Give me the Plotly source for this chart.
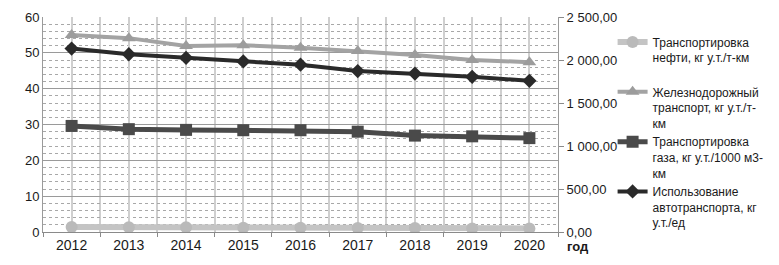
import plotly.graph_objects as go

years = [2012, 2013, 2014, 2015, 2016, 2017, 2018, 2019, 2020]
oil = [1.4, 1.3, 1.3, 1.2, 1.2, 1.1, 1.1, 1.0, 1.0]
rail = [55.0, 54.1, 51.9, 52.1, 51.4, 50.5, 49.4, 48.0, 47.4]
gas = [29.6, 28.7, 28.5, 28.4, 28.4, 28.0, 26.9, 26.7, 26.2]
auto = [2133, 2067, 2025, 1983, 1946, 1871, 1842, 1804, 1758]

names = [
    "Транспортировка<br>нефти, кг у.т./т-км<br> ",
    "Железнодорожный<br>транспорт, кг у.т./т-<br>км",
    "Транспортировка<br>газа, кг у.т./1000 м3-<br>км",
    "Использование<br>автотранспорта, кг<br>у.т./ед",
]

FONT = "Liberation Sans, Arial, sans-serif"
VGRID = "#cfcfcf"

fig = go.Figure()
fig.add_trace(go.Scatter(x=years, y=oil, name=names[0], mode="lines+markers",
                         line=dict(color="#c4c4c4", width=6),
                         marker=dict(symbol="circle", size=12, color="#bababa")))
fig.add_trace(go.Scatter(x=years, y=rail, name=names[1], mode="lines+markers",
                         line=dict(color="#a3a3a3", width=4),
                         marker=dict(symbol="triangle-up", size=12, color="#9c9c9c")))
fig.add_trace(go.Scatter(x=years, y=gas, name=names[2], mode="lines+markers",
                         line=dict(color="#4a4a4a", width=5),
                         marker=dict(symbol="square", size=12, color="#4a4a4a")))
fig.add_trace(go.Scatter(x=years, y=auto, name=names[3], mode="lines+markers", yaxis="y2",
                         line=dict(color="#2a2a2a", width=4),
                         marker=dict(symbol="diamond", size=11, color="#2a2a2a")))

fig.update_layout(
    width=779, height=265,
    margin=dict(l=43, r=221, t=10, b=33),
    paper_bgcolor="white", plot_bgcolor="white",
    separators=", ",
    font=dict(family=FONT, size=13, color="#1a1a1a"),
    showlegend=True,
    legend=dict(x=1.106, xanchor="left", y=0.95, yanchor="top",
                font=dict(family=FONT, size=12, color="#1a1a1a"),
                valign="top", itemwidth=30, tracegroupgap=0,
                bgcolor="rgba(0,0,0,0)"),
    xaxis=dict(range=[2011.5, 2020.5], tickmode="linear", tick0=2012, dtick=1,
               showgrid=True, gridcolor=VGRID, gridwidth=2,
               ticks="", zeroline=False, showline=True, linecolor="#8a8a8a", linewidth=1,
               tickfont=dict(family=FONT, size=14, color="#1a1a1a"),
               minor=dict(tick0=2011.5, dtick=1, showgrid=True, gridcolor=VGRID, gridwidth=2,
                          ticks="outside", ticklen=4, tickcolor="#8a8a8a")),
    yaxis=dict(range=[0, 60], dtick=10, showgrid=True, gridcolor="#9a9a9a", gridwidth=1,
               zeroline=False, showline=True, linecolor="#9a9a9a", ticks="",
               tickfont=dict(family=FONT, size=13, color="#1a1a1a"),
               minor=dict(dtick=2, showgrid=True, gridcolor="#a8a8a8", griddash="dot")),
    yaxis2=dict(range=[0, 2500], dtick=500, overlaying="y", side="right",
                showgrid=False, zeroline=False, showline=True, linecolor="#9a9a9a",
                linewidth=1,
                ticks="outside", ticklen=5, tickcolor="#8a8a8a", tickformat=",.2f",
                tickfont=dict(family=FONT, size=13, color="#1a1a1a")),
)

fig.add_annotation(text="<b>год</b>", xref="paper", yref="paper", x=1.013, y=-0.025,
                   xanchor="left", yanchor="top", showarrow=False,
                   font=dict(family=FONT, size=13, color="#1a1a1a"))

fig.write_html("out.html")
